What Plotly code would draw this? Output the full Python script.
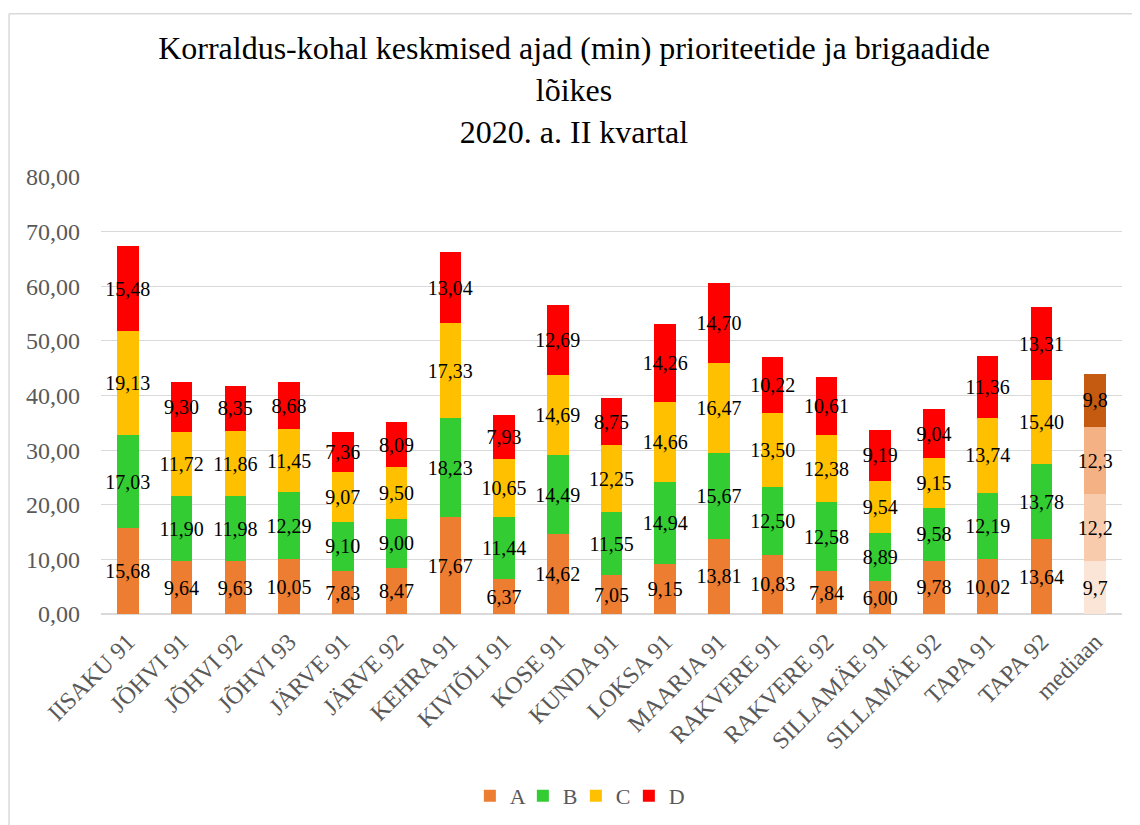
import plotly.graph_objects as go

categories = ["IISAKU 91", "JÕHVI 91", "JÕHVI 92", "JÕHVI 93", "JÄRVE 91", "JÄRVE 92",
              "KEHRA 91", "KIVIÕLI 91", "KOSE 91", "KUNDA 91", "LOKSA 91", "MAARJA 91",
              "RAKVERE 91", "RAKVERE 92", "SILLAMÄE 91", "SILLAMÄE 92", "TAPA 91", "TAPA 92",
              "mediaan"]

A = [15.68, 9.64, 9.63, 10.05, 7.83, 8.47, 17.67, 6.37, 14.62, 7.05, 9.15, 13.81,
     10.83, 7.84, 6.00, 9.78, 10.02, 13.64, 9.7]
B = [17.03, 11.90, 11.98, 12.29, 9.10, 9.00, 18.23, 11.44, 14.49, 11.55, 14.94, 15.67,
     12.50, 12.58, 8.89, 9.58, 12.19, 13.78, 12.2]
C = [19.13, 11.72, 11.86, 11.45, 9.07, 9.50, 17.33, 10.65, 14.69, 12.25, 14.66, 16.47,
     13.50, 12.38, 9.54, 9.15, 13.74, 15.40, 12.3]
D = [15.48, 9.30, 8.35, 8.68, 7.36, 8.09, 13.04, 7.93, 12.69, 8.75, 14.26, 14.70,
     10.22, 10.61, 9.19, 9.04, 11.36, 13.31, 9.8]

series_names = ["A", "B", "C", "D"]
series_values = [A, B, C, D]
series_colors = ["#ED7D31", "#33CC33", "#FFC000", "#FF0000"]
median_colors = ["#FBE5D6", "#F8CBAD", "#F4B183", "#C55A11"]

FONT = "Liberation Serif, Times New Roman, serif"


def fmt(v, dec):
    return f"{v:.{dec}f}".replace(".", ",")


fig = go.Figure()
for name, vals, col, mcol in zip(series_names, series_values, series_colors, median_colors):
    colors = [col] * (len(vals) - 1) + [mcol]
    texts = [fmt(v, 2) for v in vals[:-1]] + [fmt(vals[-1], 1)]
    fig.add_trace(go.Bar(
        name=name, x=categories, y=vals,
        marker=dict(color=colors, line=dict(width=0)),
        text=texts, textposition="inside", insidetextanchor="middle",
        textangle=0, constraintext="none",
        textfont=dict(family=FONT, size=20, color="black"),
        cliponaxis=False, hoverinfo="x+y+name",
    ))

# invisible spacer entry so the compact legend does not clip the last label
fig.add_trace(go.Bar(
    name="\u00a0", x=[categories[0]], y=[None], opacity=0,
    marker=dict(color="rgba(0,0,0,0)", line=dict(width=0)),
    hoverinfo="skip", showlegend=True,
))

border = dict(color="#D9D9D9", width=1.5)

fig.update_layout(
    barmode="stack", bargap=0.6,
    width=1132, height=817,
    paper_bgcolor="white", plot_bgcolor="white",
    margin=dict(l=93, r=18, t=169, b=211),
    separators=", ",
    font=dict(family=FONT, color="#595959"),
    title=dict(
        text="Korraldus-kohal keskmised ajad (min) prioriteetide ja brigaadide<br>lõikes<br>2020. a. II kvartal",
        x=0.5, xref="container", y=0.937, yref="container", yanchor="top",
        font=dict(family=FONT, size=32, color="black"),
    ),
    legend=dict(
        orientation="h", x=0.408, xref="container", xanchor="left",
        y=0.0355, yref="container", yanchor="middle",
        font=dict(family=FONT, size=22, color="#595959"),
        traceorder="normal", entrywidth=8, entrywidthmode="pixels",
    ),
    xaxis=dict(
        tickangle=-45, tickfont=dict(family=FONT, size=24, color="#595959"),
        showgrid=False, showline=False, ticks="", ticklabelstandoff=8,
    ),
    yaxis=dict(
        range=[0, 80], dtick=10, tickformat=".2f",
        tickfont=dict(family=FONT, size=24, color="#595959"),
        showgrid=True, gridcolor="#D9D9D9", gridwidth=1.3,
        zeroline=True, zerolinecolor="#D9D9D9", zerolinewidth=1.5,
        showline=False, ticks="", ticklabelstandoff=20,
    ),
    shapes=[
        dict(type="line", xref="paper", yref="paper", x0=-0.0901, x1=-0.0901,
             y0=-0.7, y1=1.3734, line=border),
        dict(type="line", xref="paper", yref="paper", x0=-0.0901, x1=1.2,
             y0=1.3734, y1=1.3734, line=border),
    ],
)

fig.write_html("out.html")
